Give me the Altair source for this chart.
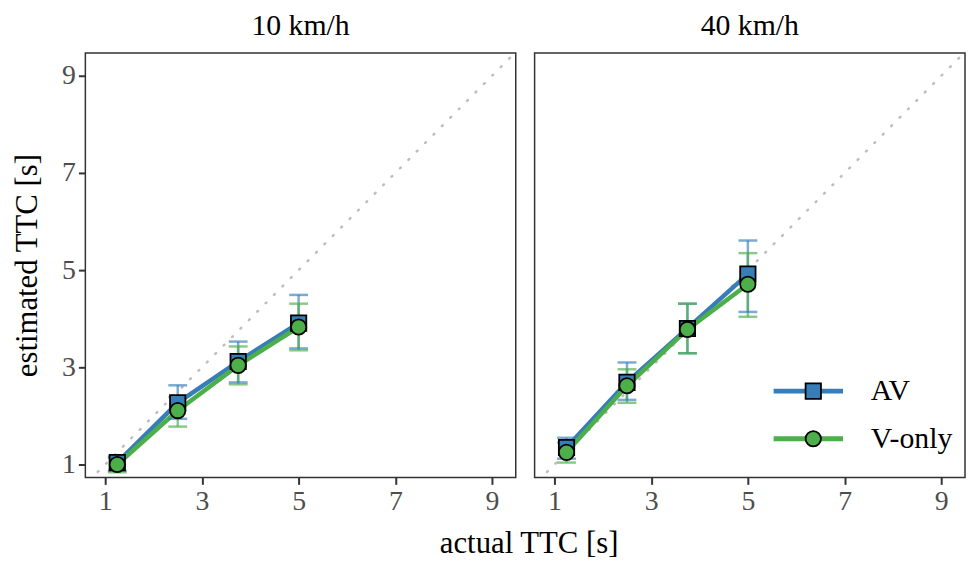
import altair as alt
import pandas as pd

# ---- data ----
ttc = [1.25, 2.5, 3.75, 5.0]
speeds = ["10 km/h", "40 km/h"]
groups = ["AV", "V-only"]

av10_mean = [1.04, 2.27, 3.12, 3.91]
av10_lo = [0.87, 1.94, 2.69, 3.39]
av10_hi = [1.16, 2.63, 3.53, 4.49]
vo10_mean = [1.00, 2.11, 3.04, 3.83]
vo10_lo = [0.84, 1.78, 2.65, 3.35]
vo10_hi = [1.14, 2.39, 3.43, 4.31]

av40_mean = [1.35, 2.69, 3.80, 4.92]
av40_lo = [1.12, 2.33, 3.29, 4.14]
av40_hi = [1.55, 3.10, 4.31, 5.61]
vo40_mean = [1.25, 2.62, 3.78, 4.71]
vo40_lo = [1.04, 2.27, 3.29, 4.04]
vo40_hi = [1.45, 2.96, 4.31, 5.35]

tick_values = [1, 3, 5, 7, 9]
diag_line = [0.5, 9.6]

colors = ["#377EB8", "#4DAF4A"]
shapes = ["square", "circle"]
outline = ["black", "black"]
FONT = "Liberation Serif"

series = {
    ("10 km/h", "AV"): (av10_mean, av10_lo, av10_hi),
    ("10 km/h", "V-only"): (vo10_mean, vo10_lo, vo10_hi),
    ("40 km/h", "AV"): (av40_mean, av40_lo, av40_hi),
    ("40 km/h", "V-only"): (vo40_mean, vo40_lo, vo40_hi),
}
rows = []
for (sp, g), (m, lo, hi) in series.items():
    for i, t in enumerate(ttc):
        rows.append({"speed": sp, "cond": g, "cond_p": g, "ttc": t,
                     "est": m[i], "lo": lo[i], "hi": hi[i]})
df = pd.DataFrame(rows)
diag_df = pd.DataFrame({"ttc": diag_line, "est": diag_line})

xscale = alt.Scale(domain=[0.59, 9.49], nice=False, zero=False)
yscale = alt.Scale(domain=[0.735, 9.47], nice=False, zero=False)
# domains come from the data (alphabetical: AV, V-only)
cscale = alt.Scale(range=colors)
sscale = alt.Scale(range=shapes)
oscale = alt.Scale(range=outline)

W, H = 434, 428

LY = 326
line_leg = alt.Legend(orient="none", legendX=714, legendY=LY, title=None,
                      symbolType="M-3.5,0L3.5,0", symbolSize=400, symbolStrokeWidth=5,
                      symbolOpacity=1,
                      labelFontSize=30, labelFont=FONT, labelColor="black",
                      labelOffset=48, rowPadding=18, padding=0)
pt_leg = alt.Legend(orient="none", legendX=719, legendY=LY, title=None,
                    symbolSize=240, symbolStrokeWidth=1.8, symbolOpacity=1,
                    labelFontSize=30, labelFont=FONT, labelOpacity=0, labelExpr="''",
                    rowPadding=18, padding=0)


def panel(sp, first):
    d = df[df.speed == sp]
    if first:
        xaxis = alt.Axis(values=tick_values, title="actual TTC [s]", titleX=447, titleY=52)
        yaxis = alt.Axis(values=tick_values, title="estimated TTC [s]", titlePadding=18)
    else:
        xaxis = alt.Axis(values=tick_values, title=None)
        yaxis = None

    X = alt.X("ttc:Q", scale=xscale, axis=xaxis)
    Y = alt.Y("est:Q", scale=yscale, axis=yaxis)
    Ylo = alt.Y("lo:Q", scale=yscale, axis=yaxis)
    Yhi = alt.Y("hi:Q", scale=yscale, axis=yaxis)
    err_color = alt.Color("cond:N", scale=cscale, legend=None)

    diag = alt.Chart(diag_df).mark_line(
        clip=True, color="#BDBDBD", strokeWidth=2.5, strokeDash=[1, 11], strokeCap="round"
    ).encode(x=X, y=Y)

    base = alt.Chart(d)
    lines = base.mark_line(strokeWidth=4.5).encode(
        x=X, y=Y, color=alt.Color("cond:N", scale=cscale, legend=line_leg))
    rules = base.mark_rule(strokeWidth=2.5, opacity=0.65).encode(
        x=X, y=Ylo, y2="hi:Q", color=err_color)
    caps_lo = base.mark_point(shape="stroke", size=361, strokeWidth=2.5, opacity=0.65,
                              filled=False).encode(x=X, y=Ylo, color=err_color)
    caps_hi = base.mark_point(shape="stroke", size=361, strokeWidth=2.5, opacity=0.65,
                              filled=False).encode(x=X, y=Yhi, color=err_color)
    points = base.mark_point(filled=True, size=240, strokeWidth=1.8, opacity=1).encode(
        x=X, y=Y,
        shape=alt.Shape("cond_p:N", scale=sscale, legend=pt_leg),
        fill=alt.Fill("cond_p:N", scale=cscale, legend=pt_leg),
        stroke=alt.Stroke("cond_p:N", scale=oscale, legend=pt_leg))

    return alt.layer(diag, lines, rules, caps_lo, caps_hi, points).properties(
        width=W, height=H,
        title=alt.TitleParams(sp, fontSize=30, font=FONT, fontWeight="normal",
                              color="black", anchor="middle", offset=12))


chart = alt.hconcat(panel(speeds[0], True), panel(speeds[1], False), spacing=19,
                    bounds="flush").properties(
    background="white", padding={"left": 3, "top": 0, "right": 0, "bottom": 0}
).configure_view(
    stroke="#333333", strokeWidth=1.5
).configure_axis(
    domain=False, grid=False, labelFont=FONT, labelFontSize=28, labelColor="#4D4D4D",
    tickColor="#333333", tickWidth=2, tickSize=7, labelPadding=3,
    titleFont=FONT, titleFontSize=31, titleFontWeight="normal", titleColor="black"
)

chart.save("out.html", embed_options={"renderer": "svg", "actions": False})
